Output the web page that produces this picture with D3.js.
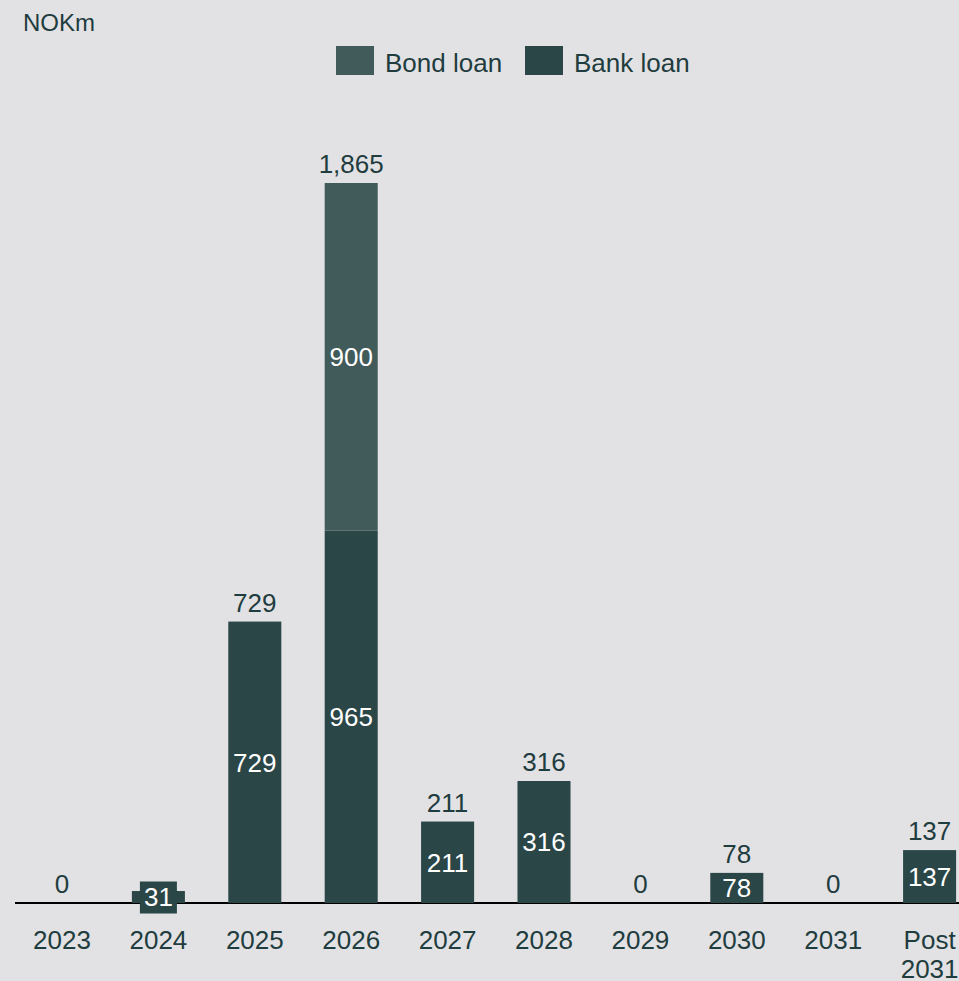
<!DOCTYPE html>
<html>
<head>
<meta charset="utf-8">
<script src="https://cdn.jsdelivr.net/npm/d3@7"></script>
<style>
  html, body { margin: 0; padding: 0; background: #e2e2e4; }
  svg { display: block; font-family: "Liberation Sans", Arial, sans-serif; }
</style>
</head>
<body>
<div id="chart"></div>
<script>
// debt maturity profile
var categories = ["2023", "2024", "2025", "2026", "2027", "2028", "2029", "2030", "2031", "Post 2031"];
var bankLoan = [0, 31, 729, 965, 211, 316, 0, 78, 0, 137];
var bondLoan = [0, 0, 0, 900, 0, 0, 0, 0, 0, 0];
var seriesNames = ["Bond loan", "Bank loan"];

var width = 959, height = 981;
var baseY = 903;
var textColor = "#1f3c3e";
var colors = {"Bank loan": "#2a4647", "Bond loan": "#415a5a"};

var data = categories.map((c, i) => ({cat: c, bank: bankLoan[i], bond: bondLoan[i], total: bankLoan[i] + bondLoan[i]}));

var svg = d3.select("#chart").append("svg")
  .attr("width", width)
  .attr("height", height);

svg.append("rect")
  .attr("width", width)
  .attr("height", height)
  .attr("fill", "#e2e2e4");

var x = d3.scaleBand()
  .domain(categories)
  .range([13.8, 977.8])
  .paddingInner(0.45)
  .paddingOuter(0.225);

var y = d3.scaleLinear()
  .domain([0, d3.max(data, d => d.total)])
  .range([baseY, 183]);

// unit title
svg.append("text")
  .attr("x", 23)
  .attr("y", 31)
  .attr("fill", textColor)
  .style("font-size", "24px")
  .text("NOKm");

// legend
var legendItems = [
  {name: seriesNames[0], x: 336},
  {name: seriesNames[1], x: 525}
];
var lg = svg.append("g").selectAll("g")
  .data(legendItems)
  .enter().append("g")
    .attr("transform", d => "translate(" + d.x + ",46)");
lg.append("rect")
  .attr("width", 38)
  .attr("height", 29)
  .attr("fill", d => colors[d.name]);
lg.append("text")
  .attr("x", 49)
  .attr("y", 26)
  .attr("fill", textColor)
  .style("font-size", "26px")
  .text(d => d.name);

// baseline (drawn under bars and label boxes)
svg.append("line")
  .attr("x1", 15)
  .attr("x2", width)
  .attr("y1", baseY)
  .attr("y2", baseY)
  .attr("stroke", "#000")
  .attr("stroke-width", 2);

// stacks
var stack = d3.stack().keys(["bank", "bond"])(data);
var keyName = {bank: "Bank loan", bond: "Bond loan"};

var layers = svg.append("g").selectAll("g")
  .data(stack)
  .enter().append("g")
    .attr("fill", d => colors[keyName[d.key]]);

layers.selectAll("rect")
  .data(d => d.filter(s => s[1] - s[0] > 0))
  .enter().append("rect")
    .attr("x", d => x(d.data.cat))
    .attr("width", x.bandwidth())
    .attr("y", d => y(d[1]))
    .attr("height", d => y(d[0]) - y(d[1]));

// inner labels
stack.forEach(function(layer) {
  var col = colors[keyName[layer.key]];
  layer.filter(s => s[1] - s[0] > 0).forEach(function(s) {
    var cx = x(s.data.cat) + x.bandwidth() / 2;
    var cy = (y(s[0]) + y(s[1])) / 2;
    var h = y(s[0]) - y(s[1]);
    var label = d3.format(",")(s[1] - s[0]);
    if (h < 28) {
      // small segment: label gets its own box
      svg.append("rect")
        .attr("x", cx - 18.5)
        .attr("y", cy - 15.5)
        .attr("width", 37)
        .attr("height", 32)
        .attr("fill", col);
    }
    svg.append("text")
      .attr("x", cx)
      .attr("y", cy)
      .attr("dy", "0.36em")
      .attr("text-anchor", "middle")
      .attr("fill", "#ffffff")
      .style("font-size", "26px")
      .text(label);
  });
});

// total labels
svg.append("g").selectAll("text")
  .data(data.filter(d => d.cat !== "2024"))
  .enter().append("text")
    .attr("x", d => x(d.cat) + x.bandwidth() / 2)
    .attr("y", d => y(d.total) - 10)
    .attr("text-anchor", "middle")
    .attr("fill", textColor)
    .style("font-size", "26px")
    .text(d => d3.format(",")(d.total));

// category axis
var xAxis = svg.append("g")
  .attr("transform", "translate(0," + baseY + ")")
  .call(d3.axisBottom(x).tickSize(0).tickPadding(0));
xAxis.select(".domain").remove();
xAxis.selectAll("text").remove();
xAxis.selectAll(".tick").each(function(d) {
  var t = d3.select(this).append("text")
    .attr("text-anchor", "middle")
    .attr("fill", textColor)
    .style("font-size", "26px")
    .style("font-family", "'Liberation Sans', Arial, sans-serif");
  d.split(" ").forEach(function(w, i) {
    t.append("tspan")
      .attr("x", 0)
      .attr("y", 46 + i * 29)
      .text(w);
  });
});
</script>
</body>
</html>
